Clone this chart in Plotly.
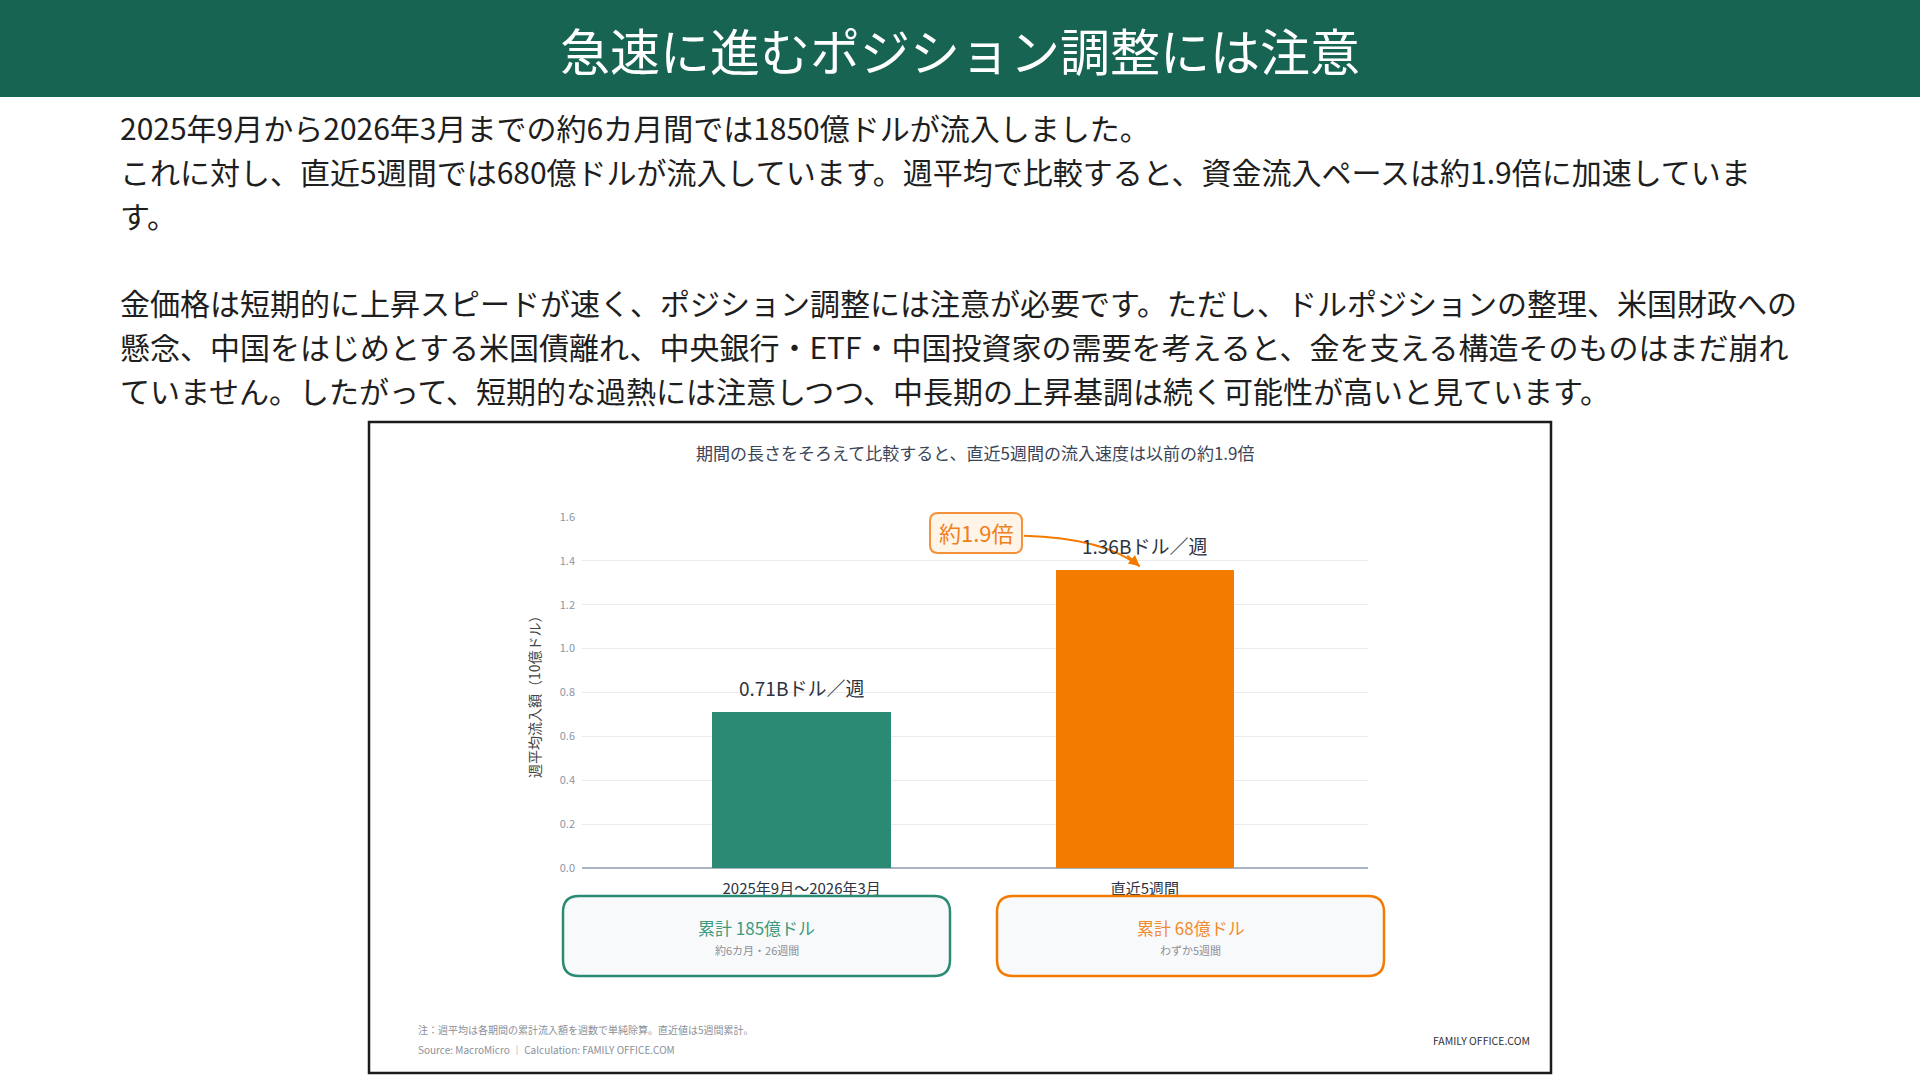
import plotly.graph_objects as go

# --- data ---
periods = ["2025年9月～2026年3月", "直近5週間"]
weekly_avg = [0.71, 1.36]  # 10億ドル／週
totals = ["累計 185億ドル", "累計 68億ドル"]
spans = ["約6カ月・26週間", "わずか5週間"]
ratio_label = "約1.9倍"
y_ticks = [0.0, 0.2, 0.4, 0.6, 0.8, 1.0, 1.2, 1.4, 1.6]

page_title = "急速に進むポジション調整には注意"
body_lines = [
    "2025年9月から2026年3月までの約6カ月間では1850億ドルが流入しました。",
    "これに対し、直近5週間では680億ドルが流入しています。週平均で比較すると、資金流入ペースは約1.9倍に加速していま",
    "す。",
    "",
    "金価格は短期的に上昇スピードが速く、ポジション調整には注意が必要です。ただし、ドルポジションの整理、米国財政への",
    "懸念、中国をはじめとする米国債離れ、中央銀行・ETF・中国投資家の需要を考えると、金を支える構造そのものはまだ崩れ",
    "ていません。したがって、短期的な過熱には注意しつつ、中長期の上昇基調は続く可能性が高いと見ています。",
]
chart_title = "期間の長さをそろえて比較すると、直近5週間の流入速度は以前の約1.9倍"
y_title = "週平均流入額（10億ドル）"
note = "注：週平均は各期間の累計流入額を週数で単純除算。直近値は5週間累計。"
source = "Source: MacroMicro ｜ Calculation: FAMILY OFFICE.COM"
brand = "FAMILY OFFICE.COM"

W, H = 1920, 1080
FONT = "Noto Sans CJK JP"
GREEN = "#2b8a74"
ORANGE = "#f27b00"
BAR_COLORS = [GREEN, ORANGE]
BOX_TEXT = ["#3d9a7c", "#f28a2e"]


def px(x):
    return x / W


def py(y):
    return 1 - y / H


def rounded_rect(x0, y0, x1, y1, r):
    # pixel coords (top-left origin) -> paper path
    rx, ry = r / W, r / H
    a, b, c, d = px(x0), py(y1), px(x1), py(y0)
    return (f"M {a + rx},{b} L {c - rx},{b} Q {c},{b} {c},{b + ry} "
            f"L {c},{d - ry} Q {c},{d} {c - rx},{d} L {a + rx},{d} "
            f"Q {a},{d} {a},{d - ry} L {a},{b + ry} Q {a},{b} {a + rx},{b} Z")


def label(text, x, y, size, color, xanchor="center", **kw):
    return dict(text=text, x=px(x), y=py(y), xref="paper", yref="paper",
                xanchor=xanchor, yanchor="middle", showarrow=False,
                font=dict(size=size, color=color, family=FONT), **kw)


xs = list(range(len(periods)))

fig = go.Figure()
fig.add_trace(go.Bar(
    x=xs, y=weekly_avg, width=0.52,
    marker=dict(color=BAR_COLORS, line=dict(width=0)),
    hoverinfo="skip",
))

shapes = [
    # header band
    dict(type="rect", xref="paper", yref="paper", x0=0, x1=1, y0=py(97), y1=1,
         fillcolor="#176453", line=dict(width=0), layer="below"),
    # chart frame
    dict(type="rect", xref="paper", yref="paper", x0=px(369), x1=px(1551),
         y0=py(1073), y1=py(422), line=dict(color="#1a1a1a", width=2.5),
         fillcolor="rgba(0,0,0,0)", layer="below"),
    # ratio box
    dict(type="path", xref="paper", yref="paper",
         path=rounded_rect(930, 513, 1022, 553, 8),
         fillcolor="#fff4e8", line=dict(color="#f5913a", width=2)),
    # curved connector
    dict(type="path", xref="x", yref="y",
         path="M 0.648,1.515 Q 0.88,1.505 0.985,1.375",
         line=dict(color=ORANGE, width=2)),
]

annotations = [
    label(page_title, 960, 49, 50, "white"),
    label(chart_title, 975, 452, 17, "#3b4558"),
    label(y_title, 534, 693, 14, "#444", textangle=-90),
    label(ratio_label, 976, 532, 22, "#f0801a"),
    # arrowhead at bar top
    dict(text="", x=0.985, y=1.375, xref="x", yref="y", ax=-14, ay=-12,
         showarrow=True, arrowhead=2, arrowsize=1.1, arrowwidth=2, arrowcolor=ORANGE),
    label(note, 416, 1029, 10, "#8a8f99", xanchor="left"),
    label(source, 416, 1049, 10, "#8a8f99", xanchor="left"),
    label(brand, 1532, 1040, 10.5, "#333", xanchor="right"),
]

line_y = [127, 171, 215, 258, 302, 346, 390]
for txt, yy in zip(body_lines, line_y):
    if txt:
        annotations.append(label(txt, 118, yy, 30, "#1e1e1e", xanchor="left"))

for xi, v in zip(xs, weekly_avg):
    annotations.append(dict(text=f"{v:.2f}Bドル／週", x=xi, y=v, xref="x", yref="y",
                            xanchor="center", yanchor="bottom", yshift=9, showarrow=False,
                            font=dict(size=19, color="#2d3340", family=FONT)))

box_x = [(563, 950), (997, 1384)]
for (x0, x1), color, tcolor, tot, sp in zip(box_x, BAR_COLORS, BOX_TEXT, totals, spans):
    shapes.append(dict(type="path", xref="paper", yref="paper",
                       path=rounded_rect(x0, 896, x1, 976, 16),
                       fillcolor="#f8f9fb", line=dict(color=color, width=2.5)))
    cx = (x0 + x1) / 2
    annotations.append(label(tot, cx, 927, 17, tcolor))
    annotations.append(label(sp, cx, 950, 11, "#8a8f99"))

fig.update_layout(
    width=W, height=H,
    margin=dict(l=0, r=0, t=0, b=0),
    paper_bgcolor="white", plot_bgcolor="white",
    showlegend=False,
    font=dict(family=FONT),
    shapes=shapes,
    annotations=annotations,
    bargap=0,
)
fig.update_xaxes(
    domain=[px(582), px(1368)], range=[-0.64, 1.65],
    tickvals=xs, ticktext=periods,
    tickfont=dict(size=15, color="#2d3340", family=FONT),
    showgrid=False, zeroline=False, showline=False, ticks="",
    ticklabelstandoff=10,
    fixedrange=True, automargin=False,
)
fig.update_yaxes(
    domain=[py(868), py(517)], range=[0, 1.6],
    tickvals=y_ticks, tickformat=".1f",
    tickfont=dict(size=11, color="#8c95a5", family=FONT),
    showgrid=True, gridcolor="#e9ebee", gridwidth=1,
    zeroline=True, zerolinecolor="#aab3c2", zerolinewidth=1.5,
    showline=False, ticks="", ticklabelstandoff=6,
    fixedrange=True, automargin=False,
)

fig.write_html("out.html", config={"displayModeBar": False},
               post_script="document.body.style.margin='0';document.body.style.overflow='hidden';")
